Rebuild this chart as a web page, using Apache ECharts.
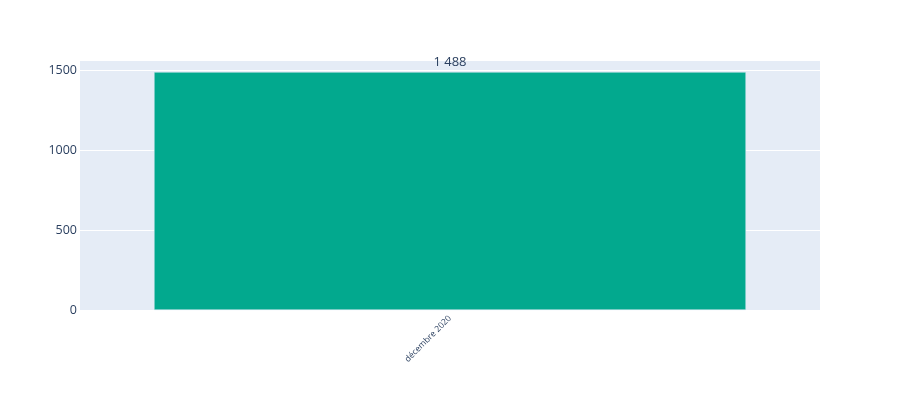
<!DOCTYPE html>
<html><head><meta charset="utf-8">
<script src="https://cdn.jsdelivr.net/npm/echarts@6/dist/echarts.min.js"></script>
<style>html,body{margin:0;padding:0;background:#fff}#c{width:900px;height:400px}</style>
</head><body><div id="c"></div>
<script>
const categories = ['décembre 2020'];
const values = [1488];
const yTicks = [0, 500, 1000, 1500];

const chart = echarts.init(document.getElementById('c'), null, {renderer: 'canvas'});
const fmt = v => String(v).replace(/\B(?=(\d{3})+(?!\d))/g, ' ');
chart.setOption({
  animation: false,
  textStyle: {fontFamily: '"Open Sans", Verdana, sans-serif'},
  grid: {left: 80, right: 80, top: 60, bottom: 90, show: true, backgroundColor: '#e5ecf6', borderWidth: 0, containLabel: false},
  xAxis: {
    type: 'category', data: categories,
    axisLine: {show: false}, axisTick: {show: false},
    axisLabel: {rotate: 45, fontSize: 8.5, color: '#2a3f5f', margin: 7}
  },
  yAxis: {
    type: 'value', min: 0, max: 1563, interval: 500,
    axisLine: {show: false}, axisTick: {show: false},
    axisLabel: {fontSize: 12.5, color: '#2a3f5f', margin: 3, showMaxLabel: false,
      formatter: v => yTicks.includes(v) ? String(v) : ''},
    splitLine: {lineStyle: {color: '#ffffff', width: 1}}
  },
  series: [{
    type: 'bar', data: values, barWidth: '80%',
    itemStyle: {color: '#02a98e', borderColor: '#e5ecf6', borderWidth: 0.5},
    label: {show: true, position: 'top', distance: 3, fontSize: 13, color: '#2a3f5f',
      formatter: p => fmt(p.value)}
  }]
});
</script></body></html>
